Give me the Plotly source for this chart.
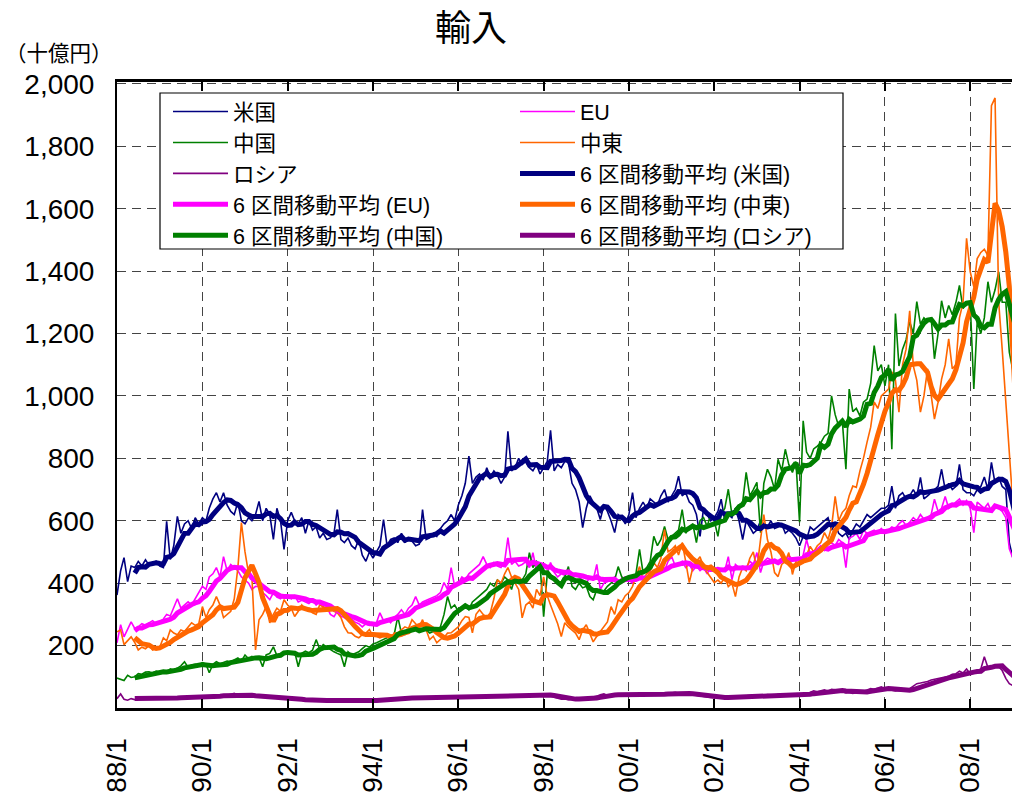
import pandas as pd
import plotly.graph_objects as go

# ---- data (十億円), monthly from 1988/1 ----
start_month = "1988-01-01"

us = [
    362, 440, 482, 405, 455, 450, 470, 455, 475, 458, 465, 470,   # 1988
    455, 450, 598, 476, 520, 614, 560, 590, 600, 575, 610, 590,   # 1989
    610, 600, 640, 670, 690, 660, 690, 650, 630, 620, 660, 600,   # 1990
    590, 610, 600, 620, 662, 600, 640, 620, 540, 640, 600, 508,   # 1991
    600, 627, 600, 590, 610, 560, 600, 570, 580, 545, 560, 540,   # 1992
    545, 560, 636, 540, 530, 545, 520, 510, 540, 490, 470, 500,   # 1993
    480, 500, 520, 604, 520, 540, 545, 530, 560, 530, 545, 535,   # 1994
    520, 525, 636, 540, 545, 560, 550, 575, 590, 600, 620, 600,   # 1995
    650, 680, 720, 807, 720, 740, 750, 730, 770, 740, 760, 745,   # 1996
    720, 740, 887, 760, 770, 800, 780, 790, 770, 760, 780, 750,   # 1997
    770, 790, 890, 760, 780, 770, 790, 787, 720, 700, 660, 578,   # 1998
    640, 680, 660, 640, 604, 650, 630, 600, 562, 620, 610, 590,   # 1999
    620, 690, 610, 640, 660, 640, 670, 660, 650, 680, 700, 660,   # 2000
    680, 700, 743, 680, 690, 660, 650, 620, 550, 640, 620, 600,   # 2001
    610, 630, 669, 600, 620, 610, 640, 600, 540, 600, 580, 560,   # 2002
    570, 600, 590, 580, 600, 575, 580, 590, 560, 570, 560, 545,   # 2003
    520, 550, 540, 580, 570, 580, 590, 600, 610, 570, 590, 560,   # 2004
    550, 560, 540, 570, 590, 580, 600, 620, 610, 620, 630, 640,   # 2005
    640, 650, 711, 640, 680, 690, 670, 680, 700, 680, 739, 670,   # 2006
    680, 690, 700, 710, 765, 700, 720, 700, 710, 781, 700, 690,   # 2007
    690, 680, 700, 710, 740, 700, 787, 720, 740, 710, 700, 530,   # 2008
    480, 470,                                                     # 2009
]

eu = [
    209, 267, 228, 250, 276, 255, 260, 270, 265, 273, 280, 270,
    276, 285, 300, 295, 320, 350, 320, 330, 340, 330, 350, 370,
    390, 380, 420, 430, 450, 420, 485, 440, 460, 450, 440, 420,
    411, 400, 380, 390, 389, 370, 360, 347, 370, 355, 350, 363,
    363, 350, 360, 340, 345, 341, 335, 345, 330, 341, 320, 325,
    300, 293, 310, 295, 290, 283, 285, 275, 270, 260, 270, 265,
    268, 275, 305, 280, 285, 273, 290, 300, 315, 300, 320, 330,
    357, 330, 340, 345, 350, 357, 360, 370, 402, 380, 450, 390,
    400, 420, 411, 430, 440, 450, 460, 485, 460, 450, 466, 455,
    450, 470, 546, 460, 470, 455, 460, 469, 450, 498, 440, 445,
    440, 430, 466, 435, 420, 430, 425, 440, 415, 430, 420, 410,
    400, 420, 410, 460, 379, 400, 405, 410, 420, 400, 415, 420,
    410, 400, 425, 430, 420, 415, 440, 430, 445, 460, 440, 470,
    485, 455, 460, 470, 450, 460, 440, 455, 440, 450, 430, 450,
    440, 450, 445, 440, 485, 411, 460, 450, 455, 450, 470, 460,
    498, 434, 470, 480, 475, 470, 465, 480, 470, 490, 475, 480,
    470, 490, 540, 495, 500, 510, 520, 505, 525, 530, 520, 540,
    530, 450, 545, 550, 560, 540, 570, 560, 565, 570, 560, 575,
    560, 570, 580, 575, 590, 600, 585, 595, 610, 600, 620, 605,
    610, 620, 669, 630, 640, 678, 640, 650, 660, 670, 650, 665,
    640, 562, 660, 650, 640, 655, 630, 650, 640, 630, 610, 510,
    480, 470,
]

china = [
    96, 92, 88, 105, 98, 100, 110, 108, 115, 116, 112, 118,
    115, 120, 113, 125, 122, 128, 135, 148, 130, 138, 140, 135,
    145, 140, 113, 140, 148, 142, 145, 150, 148, 155, 160, 150,
    170, 158, 165, 160, 162, 132, 170, 175, 196, 168, 172, 178,
    180, 176, 180, 132, 175, 182, 177, 185, 219, 190, 203, 195,
    186, 180, 175, 170, 132, 180, 170, 175, 180, 190, 200, 195,
    205, 209, 215, 220, 225, 230, 235, 293, 240, 235, 245, 250,
    255, 260, 265, 250, 240, 245, 250, 260, 300, 357, 320, 330,
    310, 320, 330, 315, 340, 350, 360, 370, 380, 400, 390, 410,
    400, 420, 410, 380, 420, 400, 410, 430, 498, 450, 470, 460,
    293, 430, 420, 410, 400, 405, 420, 453, 390, 380, 400, 385,
    390, 357, 347, 380, 370, 375, 390, 400, 410, 453, 420, 410,
    420, 410, 430, 508, 434, 450, 470, 550, 520, 540, 582, 540,
    550, 560, 570, 636, 560, 580, 590, 530, 600, 610, 582, 620,
    600, 550, 620, 640, 701, 620, 640, 650, 660, 755, 680, 700,
    723, 562, 720, 765, 740, 701, 797, 760, 829, 780, 755, 790,
    595, 920, 820, 800, 830, 839, 850, 871, 880, 1000, 940, 903,
    920, 765, 1022, 950, 960, 936, 980, 990, 1040, 1161, 1080, 1100,
    1032, 1100, 829, 1264, 1096, 1150, 1180, 1238, 1200, 1302, 1230, 1250,
    1238, 1250, 1119, 1200, 1305, 1250, 1290, 1260, 1300, 1354, 1280, 1300,
    1300, 1022, 1238, 1200, 1250, 1366, 1300, 1340, 1398, 1300, 1300, 1140,
    1080, 1050,
]

mideast = [
    244, 250, 203, 215, 228, 210, 186, 195, 190, 200, 186, 190,
    195, 225, 215, 250, 240, 235, 250, 245, 260, 273, 265, 270,
    325, 290, 315, 330, 357, 330, 290, 300, 310, 350, 450, 594,
    500, 430, 420, 186, 283, 300, 325, 273, 300, 320, 310, 347,
    330, 320, 293, 310, 330, 315, 320, 305, 300, 330, 325, 320,
    320, 310, 305, 290, 260, 241, 240, 230, 225, 235, 240, 251,
    230, 229, 225, 230, 235, 219, 240, 241, 250, 260, 255, 283,
    270, 260, 283, 250, 219, 230, 209, 220, 225, 240, 241, 250,
    260, 280, 293, 290, 241, 300, 315, 300, 290, 305, 350, 411,
    400, 430, 450, 420, 400, 380, 289, 330, 340, 320, 380, 360,
    420, 360, 330, 300, 270, 229, 273, 260, 251, 240, 219, 250,
    267, 240, 212, 230, 244, 260, 276, 325, 300, 347, 340, 360,
    370, 390, 420, 453, 411, 430, 440, 466, 450, 480, 572, 500,
    508, 520, 490, 530, 470, 402, 450, 470, 485, 450, 434, 420,
    402, 410, 400, 420, 389, 400, 357, 420, 450, 440, 480, 500,
    444, 540, 620, 540, 500, 434, 421, 460, 470, 498, 428, 470,
    480, 476, 490, 518, 500, 520, 530, 562, 540, 580, 678, 600,
    627, 640, 680, 711, 707, 760, 800, 852, 900, 981, 960, 1000,
    1010, 1022, 1077, 1050, 948, 1100, 1150, 1273, 1096, 1050, 948, 1000,
    1087, 1000, 926, 980, 1054, 1100, 1183, 1087, 1100, 1250, 1300, 1505,
    1398, 1350, 1440, 1460, 1470, 1450, 1930, 1955, 1300, 1150, 980, 790,
    650, 600,
]

russia = [
    30, 45, 28, 25, 30, 27, 30, 28, 29, 30, 28, 31,
    30, 32, 31, 33, 32, 34, 35, 33, 34, 36, 35, 37,
    36, 38, 37, 39, 38, 40, 42, 41, 44, 47, 42, 40,
    40, 38, 39, 37, 38, 36, 37, 35, 36, 34, 33, 32,
    30, 28, 27, 26, 25, 24, 24, 25, 23, 24, 25, 24,
    24, 23, 25, 24, 23, 24, 25, 24, 23, 24, 25, 24,
    25, 24, 25, 26, 28, 30, 31, 32, 30, 33, 32, 34,
    33, 35, 34, 36, 35, 33, 34, 36, 35, 36, 37, 35,
    36, 37, 35, 38, 36, 37, 38, 36, 37, 38, 39, 37,
    38, 39, 40, 41, 39, 40, 42, 41, 43, 42, 44, 42,
    42, 40, 38, 35, 30, 28, 29, 27, 28, 29, 30, 28,
    30, 32, 35, 38, 42, 45, 40, 42, 44, 40, 42, 41,
    40, 38, 42, 40, 41, 43, 42, 44, 45, 43, 48, 46,
    48, 50, 47, 45, 46, 44, 42, 40, 38, 36, 35, 34,
    33, 32, 33, 34, 35, 36, 37, 36, 38, 39, 40, 41,
    40, 42, 41, 43, 42, 40, 44, 42, 41, 45, 43, 44,
    42, 40, 45, 50, 55, 52, 56, 58, 54, 60, 58, 56,
    52, 48, 50, 47, 49, 52, 54, 58, 62, 60, 64, 68,
    62, 60, 58, 55, 56, 54, 58, 62, 70, 78, 80, 82,
    85, 90, 92, 96, 98, 100, 102, 108, 110, 118, 112, 125,
    110, 115, 120, 125, 164, 130, 128, 135, 132, 120, 95, 78,
    72, 68,
]

series_names = ["米国", "EU", "中国", "中東", "ロシア"]
series_values = [us, eu, china, mideast, russia]
series_colors = ["#000080", "#FF00FF", "#008000", "#FF6600", "#800080"]
ma_window = 6
ma_prefix = "6 区間移動平均"
ma_order = ["米国", "EU", "中東", "中国", "ロシア"]

y_tickvals = [200, 400, 600, 800, 1000, 1200, 1400, 1600, 1800, 2000]

# ---- figure ----
months = pd.date_range(start_month, periods=len(us), freq="MS")

fig = go.Figure()
for name, vals, col in zip(series_names, series_values, series_colors):
    fig.add_trace(go.Scatter(x=months, y=vals, mode="lines", name=name,
                             line=dict(color=col, width=1.6)))

lookup = {n: (v, c) for n, v, c in zip(series_names, series_values, series_colors)}
for name in ma_order:
    vals, col = lookup[name]
    ma = pd.Series(vals).rolling(ma_window).mean()
    fig.add_trace(go.Scatter(x=months, y=ma, mode="lines",
                             name=f"{ma_prefix} ({name})",
                             line=dict(color=col, width=5)))

W, H = 1012, 792
PL, PT, PB = 117, 82, 708          # plot area in pixels
L, R, T, B = PL, 0, PT, H - PB
pw, ph = W - PL - R, PB - PT


def px_x(p):
    return (p - PL) / pw


def px_y(p):
    return (PB - p) / ph


num_font = "Liberation Sans, Arial, sans-serif"
jp_font = "Liberation Sans, Noto Sans CJK JP, sans-serif"

fig.update_layout(
    width=W, height=H,
    margin=dict(l=L, r=R, t=T, b=B, autoexpand=False),
    paper_bgcolor="white", plot_bgcolor="white",
    showlegend=True,
    title=dict(text="輸入", font=dict(family="Noto Sans CJK JP", size=36, color="black"),
               x=471 / W, xref="container", xanchor="center",
               y=1 - 28 / H, yref="container", yanchor="middle"),
    legend=dict(orientation="h", x=px_x(168), xanchor="left",
                y=px_y(91), yanchor="top",
                font=dict(family=jp_font, size=21.5, color="black"),
                itemwidth=55, entrywidth=277, entrywidthmode="pixels",
                bgcolor="rgba(0,0,0,0)", borderwidth=0, traceorder="normal"),
    shapes=[dict(type="rect", xref="paper", yref="paper",
                 x0=px_x(160), x1=px_x(843), y0=px_y(249), y1=px_y(93),
                 fillcolor="white", line=dict(color="black", width=1.2),
                 layer="above")],
    annotations=[dict(text="（十億円）", xref="paper", yref="paper",
                      x=px_x(59), y=px_y(52), xanchor="center", yanchor="middle",
                      showarrow=False,
                      font=dict(family="Noto Sans CJK JP", size=21.5, color="black"))],
)

fig.update_xaxes(
    type="date",
    range=["1988-01-01", "2008-12-24"],
    tick0="1988-01-01", dtick="M24", tickformat="%y/%-m",
    tickangle=-90, ticklabelstandoff=16,
    tickfont=dict(family=num_font, size=28, color="black"),
    ticks="inside", ticklen=9, tickwidth=1.5, tickcolor="black",
    showline=True, linecolor="black", linewidth=3, mirror="ticks",
    showgrid=True, gridcolor="#444444", gridwidth=1, griddash="9px,6px",
    zeroline=False, automargin=False,
)
fig.update_yaxes(
    range=[0, 2006],
    tickvals=y_tickvals, tickformat=",d",
    tickfont=dict(family=num_font, size=28, color="black"),
    ticks="", ticklabelstandoff=15,
    showline=True, linecolor="black", linewidth=2, mirror=False,
    showgrid=True, gridcolor="#444444", gridwidth=1, griddash="9px,6px",
    zeroline=False, automargin=False,
)

# the page's default 8px body margin would shift the chart; remove it
fig.write_html("out.html",
               config={"displayModeBar": False},
               post_script="document.body.style.margin='0';"
                           "document.body.style.overflow='hidden';")
